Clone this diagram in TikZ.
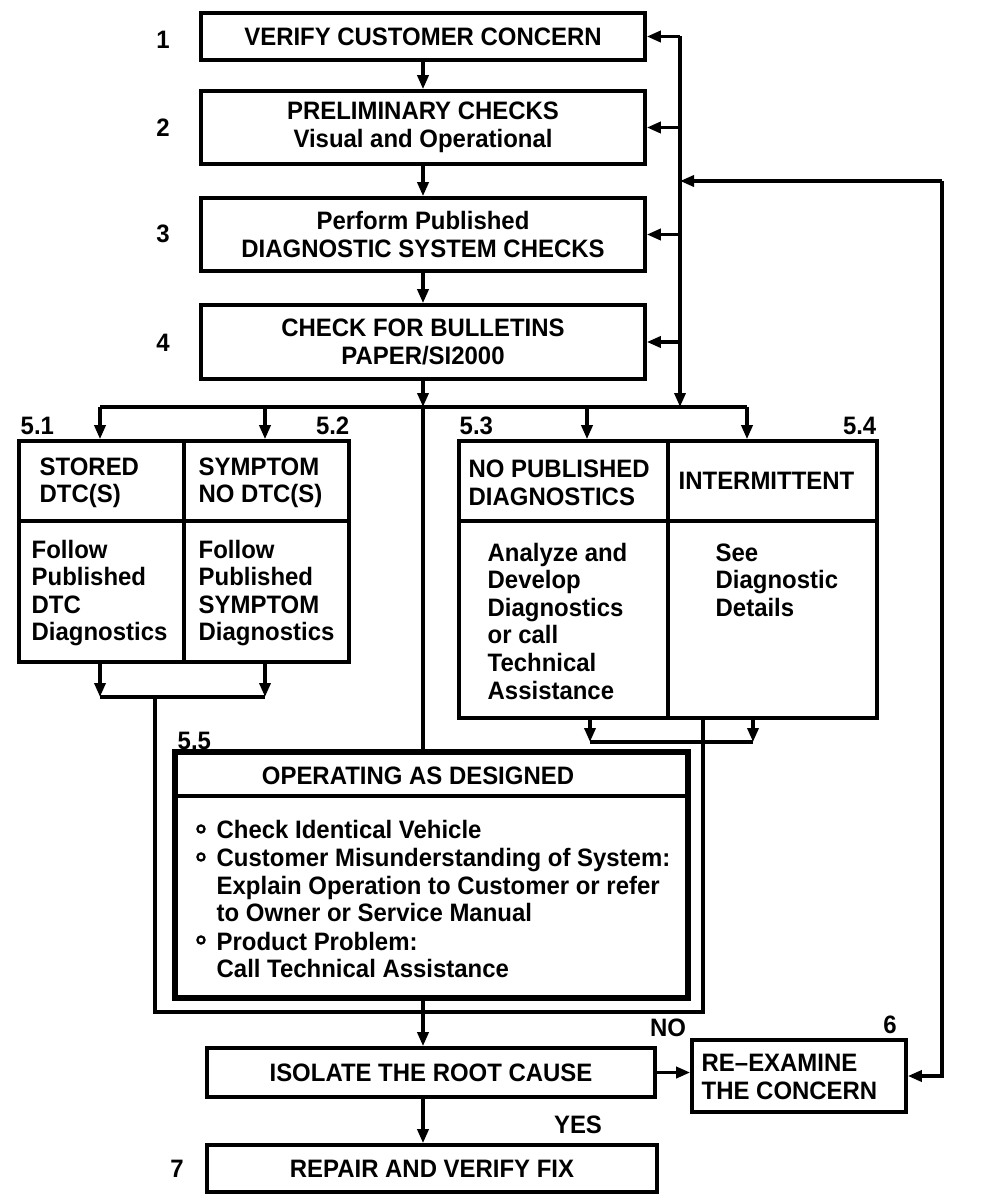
\documentclass[tikz,border=0pt]{standalone}
\usepackage{fontspec}
\usetikzlibrary{arrows.meta}
\newfontfamily\lf{Liberation Sans Bold}[FakeStretch=0.95]
\newcommand\tf{\lf\fontsize{12.6pt}{13.8pt}\selectfont}
\begin{document}
\begin{tikzpicture}[x=0.5pt,y=-0.5pt,line width=1.7pt,
  arr/.style={-{Triangle[length=7pt,width=5.5pt]}},
  lbl/.style={inner sep=0pt,font=\tf},
  txt/.style={inner sep=0pt,font=\tf,align=left,anchor=west},
  box/.style={draw,line width=1.8pt,inner sep=0pt,align=center,font=\tf}]
\useasboundingbox[fill=white] (0,0) rectangle (992,1204);

% top boxes
\node[box,minimum width=222pt,minimum height=23.5pt] (b1) at (423,36.5) {VERIFY CUSTOMER CONCERN};
\node[box,minimum width=222pt,minimum height=36.5pt] (b2) at (423,127.5) {PRELIMINARY CHECKS\\Visual and Operational};
\node[box,minimum width=222pt,minimum height=36.5pt] (b3) at (423,234.5) {Perform Published\\DIAGNOSTIC SYSTEM CHECKS};
\node[box,minimum width=222pt,minimum height=37pt] (b4) at (423,342) {CHECK FOR BULLETINS\\PAPER/SI2000};
\node[lbl] (n1) at (163,40) {1};
\node[lbl] (n2) at (163,128) {2};
\node[lbl] (n3) at (163,234) {3};
\node[lbl] (n4) at (163,343) {4};

\draw[arr] (b1) -- (b2);
\draw[arr] (b2) -- (b3);
\draw[arr] (b3) -- (b4);

% right bus
\coordinate (rtop) at (680,36.5);
\coordinate (rbot) at (680,407);
\draw[arr] (rtop) -- (rbot);
\draw[arr] (rtop) -- (b1.east);
\draw[arr] (rtop |- b2.east) -- (b2.east);
\draw[arr] (rtop |- b3.east) -- (b3.east);
\draw[arr] (rtop |- b4.east) -- (b4.east);

% feedback loop
\coordinate (fbR) at (942,181);
\coordinate (fbL) at (680,181);
\draw[arr] (fbR) -- (fbL);

% main bus
\coordinate (mj) at (423,407);
\coordinate (busL) at (100,407);
\coordinate (busR) at (747,407);
\draw (busL) -- (busR);
\draw[arr] (b4.south) -- (mj);

% box A
\node[draw,line width=1.8pt,minimum width=165pt,minimum height=110.5pt,inner sep=0pt] (bA) at (184,551.5) {};
\draw[line width=1.8pt] (bA.north) -- (bA.south);
\draw[line width=1.8pt] (bA.west |- 0,521) -- (bA.east |- 0,521);
\coordinate (t51) at (100,407);
\coordinate (t52) at (265,407);
\draw[arr] (t51) -- (t51 |- bA.north);
\draw[arr] (t52) -- (t52 |- bA.north);
\node[lbl,anchor=west] (l51) at (19,426) {5.1};
\node[lbl,anchor=east] (l52) at (351,426) {5.2};
\node[txt] (a1) at (38,483) {STORED\\DTC(S)};
\node[txt] (a2) at (197,483) {SYMPTOM\\NO DTC(S)};
\node[txt] (a3) at (30,593) {Follow\\Published\\DTC\\Diagnostics};
\node[txt] (a4) at (197,593) {Follow\\Published\\SYMPTOM\\Diagnostics};

% box B
\node[draw,line width=1.8pt,minimum width=209pt,minimum height=138.5pt,inner sep=0pt] (bB) at (668,579.5) {};
\draw[line width=1.8pt] (bB.north) -- (bB.south);
\draw[line width=1.8pt] (bB.west |- 0,521) -- (bB.east |- 0,521);
\coordinate (t53) at (587,407);
\coordinate (t54) at (747,407);
\draw[arr] (t53) -- (t53 |- bB.north);
\draw[arr] (t54) -- (t54 |- bB.north);
\node[lbl,anchor=west] (l53) at (458,426) {5.3};
\node[lbl,anchor=east] (l54) at (878,426) {5.4};
\node[txt] (c1) at (467,483) {NO PUBLISHED\\DIAGNOSTICS};
\node[txt] (c2) at (677,481) {INTERMITTENT};
\node[txt] (c3) at (486,621) {Analyze and\\Develop\\Diagnostics\\or call\\Technical\\Assistance};
\node[txt] (c4) at (714,580) {See\\Diagnostic\\Details};

% merge A
\coordinate (mA1) at (100,697);
\coordinate (mA2) at (265,697);
\coordinate (mAc) at (155,697);
\coordinate (fBL) at (155,1012);
\coordinate (fBR) at (703,1012);
\draw[arr] (t51 |- bA.south) -- (mA1);
\draw[arr] (t52 |- bA.south) -- (mA2);
\draw (mA1) -- (mA2);
\draw (mAc) -- (fBL) -- (fBR) -- (fBR |- bB.south);

% merge B
\coordinate (mB1) at (590,742);
\coordinate (mB2) at (753,742);
\draw[arr] (mB1 |- bB.south) -- (mB1);
\draw[arr] (mB2 |- bB.south) -- (mB2);
\draw (mB1) -- (mB2);

% box 5.5
\node[draw,line width=2.8pt,minimum width=256.5pt,minimum height=123pt,inner sep=0pt] (b55) at (431.5,875) {};
\draw[line width=1.8pt] (b55.west |- 0,796) -- (b55.east |- 0,796);
\draw (mj) -- (mj |- b55.north);
\node[lbl,anchor=west] (l55) at (176,741) {5.5};
\node[lbl] (ttl) at (418,776) {OPERATING AS DESIGNED};
\foreach \yy in {829,857,940} \draw[line width=1.1pt] (201,\yy) circle[radius=1.8pt];
\node[txt] (d1) at (215,829) {Check Identical Vehicle};
\node[txt] (d2) at (215,885) {Customer Misunderstanding of System:\\Explain Operation to Customer or refer\\to Owner or Service Manual};
\node[txt] (d3) at (215,955) {Product Problem:\\Call Technical Assistance};

% bottom
\node[box,minimum width=224pt,minimum height=24.5pt] (iso) at (431,1072.5) {ISOLATE THE ROOT CAUSE};
\node[draw,line width=1.8pt,minimum width=107pt,minimum height=36pt,inner sep=0pt] (rex) at (799,1076) {};
\node[txt] (rext) at (700,1077) {RE–EXAMINE\\THE CONCERN};
\node[box,minimum width=225pt,minimum height=23.5pt] (rep) at (432,1168.5) {REPAIR AND VERIFY FIX};
\node[lbl] (n6) at (890,1025) {6};
\node[lbl] (n7) at (177,1169) {7};
\node[lbl] (no) at (668,1028) {NO};
\node[lbl] (yes) at (578,1125) {YES};

\draw[arr] (mj |- b55.south) -- (mj |- iso.north);
\draw[arr] (mj |- iso.south) -- (mj |- rep.north);
\draw[arr] (iso.east) -- (iso.east -| rex.west);
\draw[arr] (fbR) |- (rex.east);
\end{tikzpicture}
\end{document}
